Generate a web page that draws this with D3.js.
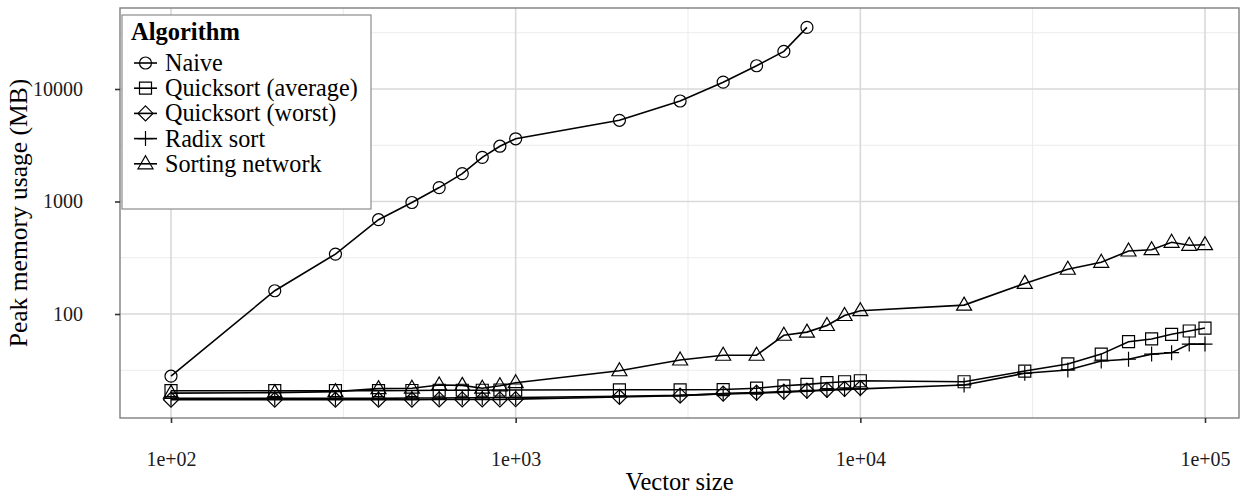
<!DOCTYPE html>
<html>
<head>
<meta charset="utf-8">
<script src="https://cdn.jsdelivr.net/npm/d3@7"></script>
<style>
  body { margin: 0; background: #fff; }
  text { font-family: "Liberation Serif", "Times New Roman", serif; }
</style>
</head>
<body>
<div class="viz"></div>
<script>
// vector sizes (x) for every series
var sizes = [100, 200, 300, 400, 500, 600, 700, 800, 900, 1000,
    2000, 3000, 4000, 5000, 6000, 7000, 8000, 9000, 10000,
    20000, 30000, 40000, 50000, 60000, 70000, 80000, 90000, 100000];

// peak memory (MB)
var naive = [28, 161, 341, 689, 980, 1330, 1770, 2470, 3100, 3610,
    5270, 7820, 11500, 16100, 21600, 35300];
var quickAvg = [20.8, 20.8, 20.8, 20.8, 20.9, 21, 21, 21, 21.1, 21.1,
    21.2, 21.2, 21.3, 21.9, 23, 23.7, 24.5, 25, 25.5,
    25, 31.1, 36, 44, 56.7, 60, 66, 70.6, 75];
var quickWorst = [17.3, 17.3, 17.3, 17.3, 17.3, 17.4, 17.4, 17.4, 17.4, 17.5,
    18.3, 18.8, 19.6, 20, 20.4, 20.8, 21.2, 21.6, 22];
var radix = [17.8, 17.8, 17.8, 17.8, 17.9, 17.9, 18, 18, 18.1, 18.1,
    18.6, 18.9, 19.5, 19.8, 20.2, 20.6, 21, 21.3, 21.6,
    23.4, 29.7, 31.8, 38.2, 39.6, 44, 45.3, 54, 54];
var sortNet = [19.8, 20, 20.4, 21.7, 21.9, 23.4, 23.2, 21.9, 23, 24.5,
    31.3, 39, 43, 43, 64.7, 69, 79, 97, 107,
    120, 187, 250, 288, 363, 373, 434, 408, 413];

var seriesNames = ["Naive", "Quicksort (average)", "Quicksort (worst)", "Radix sort", "Sorting network"];
var seriesShapes = ["circle", "square", "diamond", "plus", "triangle"];
var seriesValues = [naive, quickAvg, quickWorst, radix, sortNet];

var xTicks = [100, 1000, 10000, 100000];
var yTicks = [100, 1000, 10000];

var width = 1258,
    height = 496;

var panel = {left: 120, right: 1239, top: 8, bottom: 418};

var svg = d3.select(".viz").append("svg")
    .attr("width", width)
    .attr("height", height);

var x = d3.scaleLog().domain([100, 100000]).range([171, 1205]);
var y = d3.scaleLog().domain([100, 10000]).range([314, 89]);

// minor breaks sit half way between majors in log space
function minors(ticks) {
    var out = [];
    var all = [ticks[0] / 10].concat(ticks, [ticks[ticks.length - 1] * 10]);
    for (var i = 0; i < all.length - 1; i++) out.push(Math.sqrt(all[i] * all[i + 1]));
    return out;
}

var grid = svg.append("g");
minors(yTicks).forEach(function (v) {
    var yy = y(v);
    if (yy < panel.top || yy > panel.bottom) return;
    grid.append("line").attr("x1", panel.left).attr("x2", panel.right)
        .attr("y1", yy).attr("y2", yy).attr("stroke", "#ebebeb").attr("stroke-width", 1);
});
minors(xTicks).forEach(function (v) {
    var xx = x(v);
    if (xx < panel.left || xx > panel.right) return;
    grid.append("line").attr("y1", panel.top).attr("y2", panel.bottom)
        .attr("x1", xx).attr("x2", xx).attr("stroke", "#ebebeb").attr("stroke-width", 1);
});
yTicks.forEach(function (v) {
    grid.append("line").attr("x1", panel.left).attr("x2", panel.right)
        .attr("y1", y(v)).attr("y2", y(v)).attr("stroke", "#d9d9d9").attr("stroke-width", 1.6);
});
xTicks.forEach(function (v) {
    grid.append("line").attr("y1", panel.top).attr("y2", panel.bottom)
        .attr("x1", x(v)).attr("x2", x(v)).attr("stroke", "#d9d9d9").attr("stroke-width", 1.6);
});

function shapePath(shape, cx, cy) {
    var p = d3.path();
    if (shape == "circle") {
        p.moveTo(cx + 6, cy);
        p.arc(cx, cy, 6, 0, 2 * Math.PI);
    } else if (shape == "square") {
        p.rect(cx - 6, cy - 6, 12, 12);
    } else if (shape == "diamond") {
        p.moveTo(cx, cy - 7.5); p.lineTo(cx + 7.5, cy); p.lineTo(cx, cy + 7.5); p.lineTo(cx - 7.5, cy); p.closePath();
    } else if (shape == "plus") {
        p.moveTo(cx - 7.5, cy); p.lineTo(cx + 7.5, cy);
        p.moveTo(cx, cy - 7.5); p.lineTo(cx, cy + 7.5);
    } else if (shape == "triangle") {
        p.moveTo(cx, cy - 8); p.lineTo(cx + 7.5, cy + 5); p.lineTo(cx - 7.5, cy + 5); p.closePath();
    }
    return p.toString();
}

var line = d3.line()
    .x(function (d) { return x(d[0]); })
    .y(function (d) { return y(d[1]); });

var plot = svg.append("g");

seriesValues.forEach(function (vals, i) {
    var pts = vals.map(function (v, j) { return [sizes[j], v]; });
    plot.append("path")
        .attr("d", line(pts))
        .attr("fill", "none")
        .attr("stroke", "#000")
        .attr("stroke-width", 1.6);
});
seriesValues.forEach(function (vals, i) {
    vals.forEach(function (v, j) {
        plot.append("path")
            .attr("d", shapePath(seriesShapes[i], x(sizes[j]), y(v)))
            .attr("fill", "none")
            .attr("stroke", "#000")
            .attr("stroke-width", 1.2);
    });
});

// panel border
svg.append("rect")
    .attr("x", panel.left).attr("y", panel.top)
    .attr("width", panel.right - panel.left).attr("height", panel.bottom - panel.top)
    .attr("fill", "none").attr("stroke", "#7f7f7f").attr("stroke-width", 1.4);

// axes
var xAxis = svg.append("g")
    .attr("transform", "translate(0," + panel.bottom + ")")
    .call(d3.axisBottom(x).tickValues(xTicks).tickSize(5).tickPadding(29)
        .tickFormat(function (d) { return "1e+0" + Math.round(Math.log10(d)); }));
var yAxis = svg.append("g")
    .attr("transform", "translate(" + panel.left + ",0)")
    .call(d3.axisLeft(y).tickValues(yTicks).tickSize(5).tickPadding(32)
        .tickFormat(d3.format("d")));

[xAxis, yAxis].forEach(function (g) {
    g.select(".domain").remove();
    g.selectAll(".tick line").attr("stroke", "#333").attr("stroke-width", 1.6);
    g.selectAll(".tick text")
        .attr("fill", "#1a1a1a")
        .style("font-size", "20px")
        .style("font-family", "'Liberation Serif', serif");
});

svg.append("text")
    .attr("x", (panel.left + panel.right) / 2)
    .attr("y", 490)
    .attr("text-anchor", "middle")
    .style("font-size", "24.5px")
    .text("Vector size");

svg.append("text")
    .attr("transform", "translate(27," + (panel.top + panel.bottom) / 2 + ") rotate(-90)")
    .attr("text-anchor", "middle")
    .style("font-size", "25.5px")
    .text("Peak memory usage (MB)");

// legend
var legend = svg.append("g");
legend.append("rect")
    .attr("x", 122).attr("y", 15).attr("width", 249).attr("height", 194)
    .attr("fill", "#fff").attr("stroke", "#8c8c8c").attr("stroke-width", 1.2);
legend.append("text")
    .attr("x", 131).attr("y", 40)
    .style("font-size", "24.5px").style("font-weight", "bold")
    .text("Algorithm");

seriesNames.forEach(function (name, i) {
    var ky = 63 + i * 25.2;
    legend.append("line")
        .attr("x1", 134).attr("x2", 157).attr("y1", ky).attr("y2", ky)
        .attr("stroke", "#000").attr("stroke-width", 1.6);
    legend.append("path")
        .attr("d", shapePath(seriesShapes[i], 145.5, ky))
        .attr("fill", "none").attr("stroke", "#000").attr("stroke-width", 1.2);
    legend.append("text")
        .attr("x", 165).attr("y", ky + 8)
        .style("font-size", "24.2px")
        .text(name);
});
</script>
</body>
</html>
